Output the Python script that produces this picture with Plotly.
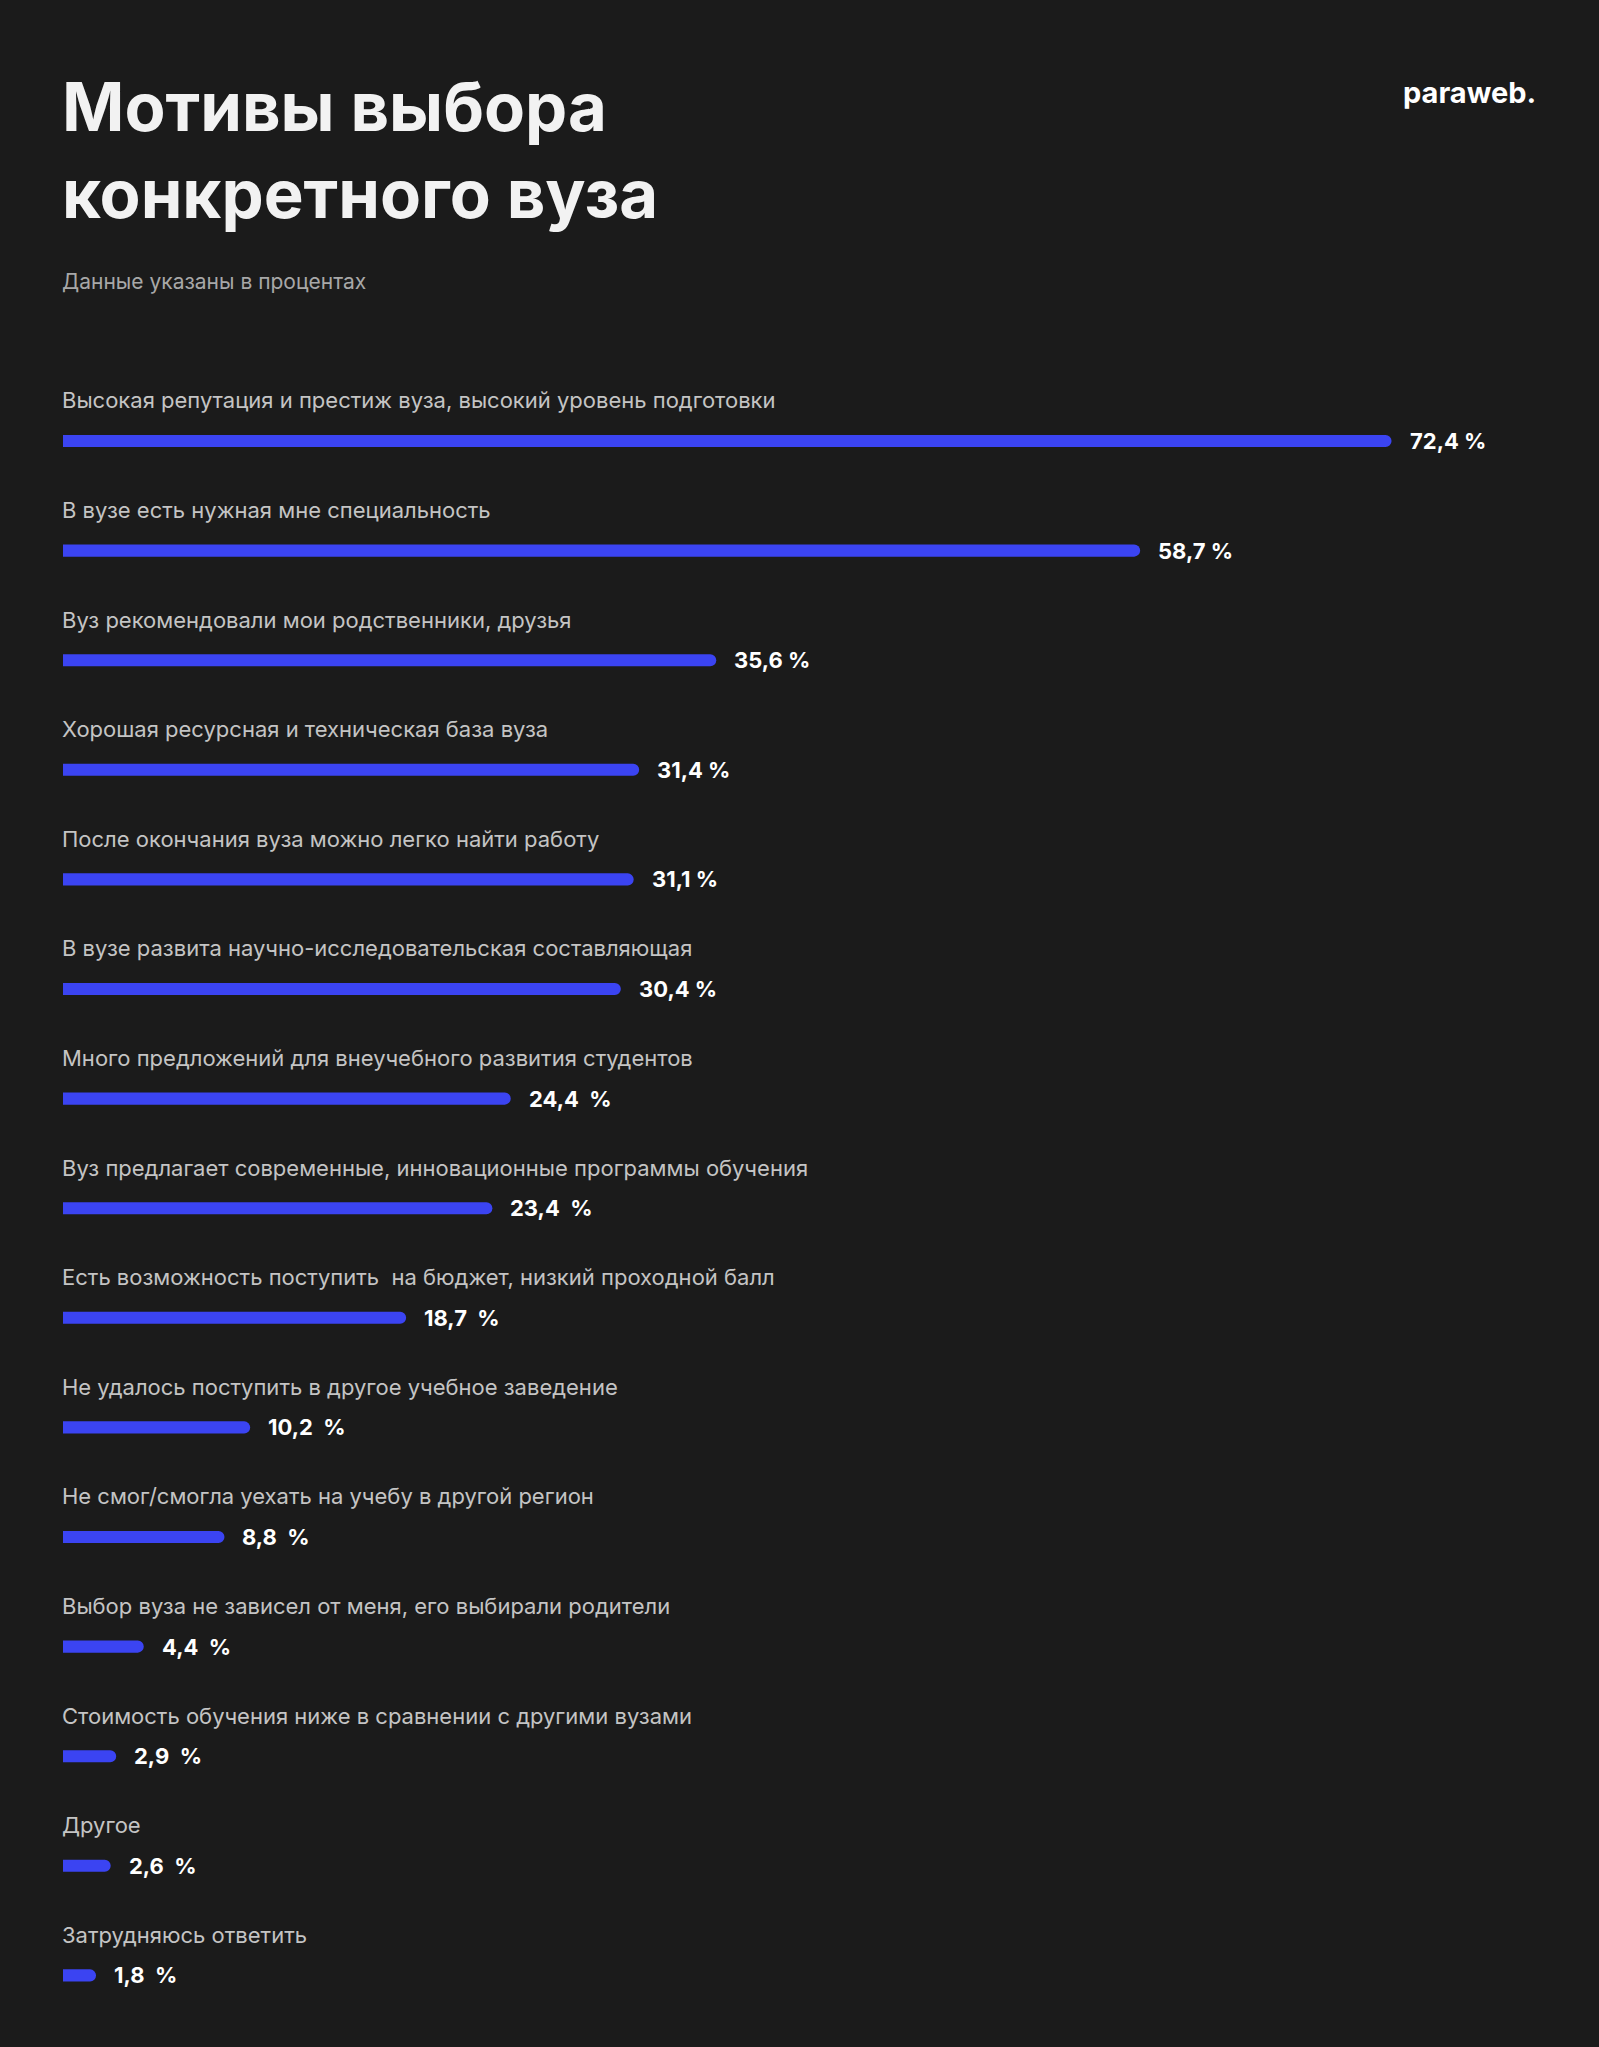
import plotly.graph_objects as go

# Data
categories = [
    "Высокая репутация и престиж вуза, высокий уровень подготовки",
    "В вузе есть нужная мне специальность",
    "Вуз рекомендовали мои родственники, друзья",
    "Хорошая ресурсная и техническая база вуза",
    "После окончания вуза можно легко найти работу",
    "В вузе развита научно-исследовательская составляющая",
    "Много предложений для внеучебного развития студентов",
    "Вуз предлагает современные, инновационные программы обучения",
    "Есть возможность поступить  на бюджет, низкий проходной балл",
    "Не удалось поступить в другое учебное заведение",
    "Не смог/смогла уехать на учебу в другой регион",
    "Выбор вуза не зависел от меня, его выбирали родители",
    "Стоимость обучения ниже в сравнении с другими вузами",
    "Другое",
    "Затрудняюсь ответить",
]
values = [72.4, 58.7, 35.6, 31.4, 31.1, 30.4, 24.4, 23.4, 18.7, 10.2, 8.8, 4.4, 2.9, 2.6, 1.8]
value_labels = ["72,4 %", "58,7 %", "35,6 %", "31,4 %", "31,1 %", "30,4 %", "24,4  %", "23,4  %",
                "18,7  %", "10,2  %", "8,8  %", "4,4  %", "2,9  %", "2,6  %", "1,8  %"]

W, H = 1599, 2047
bg = "#1b1b1b"
bar_color = "#3b44f2"
font = "Inter"

pos = list(range(len(categories)))

fig = go.Figure(go.Bar(
    x=values, y=pos, orientation="h", width=0.11,
    marker=dict(color=bar_color, cornerradius=6, line_width=0),
    hoverinfo="skip",
))

# category labels above bars
for p, c in zip(pos, categories):
    fig.add_annotation(x=0, y=p - 0.37, text=c, xanchor="left", yanchor="middle", xshift=-3,
                       showarrow=False, font=dict(family=font, size=22, color="#c4c4c4"))
# value labels right of bars
for p, v, t in zip(pos, values, value_labels):
    fig.add_annotation(x=v, y=p, text="<b>" + t + "</b>", xanchor="left", yanchor="middle",
                       xshift=16, showarrow=False, font=dict(family=font, size=22, color="#ffffff"))

# title, subtitle, logo
fig.add_annotation(x=60 / W, y=1 - 64 / H, xref="paper", yref="paper", xanchor="left", yanchor="top",
                   text="<b>Мотивы выбора<br>конкретного вуза</b>", align="left", showarrow=False,
                   font=dict(family=font, size=67, color="#f2f2f2"))
fig.add_annotation(x=60 / W, y=1 - 282 / H, xref="paper", yref="paper", xanchor="left", yanchor="middle",
                   text="Данные указаны в процентах", showarrow=False,
                   font=dict(family=font, size=21, color="#a8a8a8"))
fig.add_annotation(x=1538 / W, y=1 - 92 / H, xref="paper", yref="paper", xanchor="right", yanchor="middle",
                   text="<b>paraweb.</b>", showarrow=False,
                   font=dict(family=font, size=29, color="#ffffff"))

px_per_unit_x = 18.35
px_per_unit_y = 109.6
x0 = -63 / px_per_unit_x
y_top = -441 / px_per_unit_y
fig.update_layout(
    width=W, height=H, paper_bgcolor=bg, plot_bgcolor=bg,
    margin=dict(l=0, r=0, t=0, b=0), showlegend=False,
    xaxis=dict(range=[x0, x0 + W / px_per_unit_x], visible=False, fixedrange=True),
    yaxis=dict(range=[y_top + H / px_per_unit_y, y_top], visible=False, fixedrange=True),
)

fig.write_html("out.html", config={"displayModeBar": False})

# remove the page's default body margin so the chart fills the window
with open("out.html", encoding="utf-8") as f:
    html = f.read()
html = html.replace("<head>", "<head><style>body{margin:0;background:#1b1b1b;}</style>", 1)
with open("out.html", "w", encoding="utf-8") as f:
    f.write(html)
